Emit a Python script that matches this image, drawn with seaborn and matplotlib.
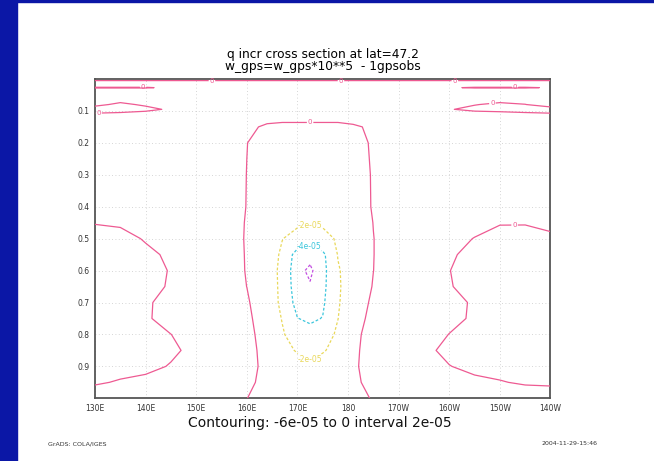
import numpy as np
import matplotlib
matplotlib.use("Agg")
import matplotlib.pyplot as plt
import seaborn as sns
from matplotlib.patches import Rectangle

# ---------------- data (q increment, units of 1e-5) ----------------
lon = [130, 135, 140, 145, 150, 155, 160, 164, 167, 170, 172.5, 175,
       178, 181, 185, 190, 195, 200, 205, 210, 215, 220]
sigma = [0.0, 0.015, 0.027, 0.04, 0.06, 0.08, 0.095, 0.11, 0.125, 0.15,
         0.2, 0.3, 0.4, 0.45, 0.5, 0.55, 0.6, 0.65, 0.7, 0.75, 0.8,
         0.85, 0.9, 0.95, 1.0]
q_incr = [
    # 130   135   140   145  150  155   160    164    167    170   172.5   175    178    181    185  190  195   200   205   210   215   220
    [-0.5, -0.5, -0.5, -0.5, -0.5, -0.5, -0.5, -0.5, -0.5, -0.5, -0.5, -0.5, -0.5, -0.5, -0.5, -0.5, -0.5, -0.5, -0.5, -0.5, -0.5, -0.5],
    [1, 1, 1, 1, 1, 1, 1, 1, 1, 1, 1, 1, 1, 1, 1, 1, 1, 1, 1, 1, 1, 1],
    [-0.1, -0.1, -0.1, 0.2, 1, 1, 1, 1, 1, 1, 1, 1, 1, 1, 1, 1, 1, 0.1, -0.1, -0.1, -0.1, 0.08],
    [1, 1, 1, 1, 1, 1, 1, 1, 1, 1, 1, 1, 1, 1, 1, 1, 1, 1, 1, 1, 1, 1],
    [1, 1, 1, 1, 1, 1, 1, 1, 1, 1, 1, 1, 1, 1, 1, 1, 1, 1, 1, 1, 1, 1],
    [0.5, -0.43, 0.3, 1, 1, 1, 1, 1, 1, 1, 1, 1, 1, 1, 1, 1, 1, 1, 0.1, -0.43, -0.05, 1],
    [-1, -1, -0.6, 0.34, 1, 1, 1, 1, 1, 1, 1, 1, 1, 1, 1, 1, 1, 0.15, -0.6, -1, -1, -1],
    [0.25, 0.5, 0.9, 1, 1, 1, 1, 1, 1, 1, 1, 1, 1, 1, 1, 1, 1, 1, 1, 1, 0.5, 0.25],
    [1, 1, 1, 1, 1, 1, 1, 0.38, 0.24, 0.24, 0.24, 0.24, 0.24, 0.53, 1, 1, 1, 1, 1, 1, 1, 1],
    [1, 1, 1, 1, 1, 1, 0.34, -0.25, -0.3, -0.3, -0.3, -0.3, -0.3, -0.25, 0.3, 1, 1, 1, 1, 1, 1, 1],
    [1, 1, 1, 1, 1, 1, 0.02, -0.5, -0.6, -0.6, -0.6, -0.6, -0.6, -0.5, 0.17, 1, 1, 1, 1, 1, 1, 1],
    [1, 1, 1, 1, 1, 1, -0.02, -0.7, -0.85, -0.9, -0.9, -0.9, -0.85, -0.7, 0.12, 1, 1, 1, 1, 1, 1, 1],
    [1, 1, 1, 1, 1, 1, -0.04, -0.9, -1.2, -1.35, -1.4, -1.35, -1.2, -0.9, 0.13, 1, 1, 1, 1, 1, 1, 1],
    [0.07, 0.17, 1, 1, 1, 1, -0.11, -1.2, -1.6, -1.8, -1.85, -1.8, -1.6, -1.2, 0.03, 1, 1, 1, 1, 0.11, 0.1, 0.76],
    [-0.6, -0.4, 0.1, 1, 1, 1, -0.14, -1.19, -1.97, -2.42, -2.92, -2.42, -1.85, -1.04, -0.03, 1, 1, 1, -0.1, -0.6, -0.6, -0.6],
    [-0.6, -0.6, -0.26, 0.2, 1, 1, -0.11, -1.3, -2.21, -4.9, -5.3, -4.42, -1.92, -1.11, -0.03, 1, 1, 0.28, -0.6, -0.6, -0.6, -0.6],
    [-0.6, -0.6, -0.6, 0.1, 1, 1, -0.09, -1.375, -2.31, -5.4, -6.4, -4.61, -2.15, -1.18, -0.01, 1, 1, 0.03, -0.6, -0.6, -0.6, -0.6],
    [-0.6, -0.6, -0.6, 0.19, 1, 1, -0.01, -1.31, -2.3, -5.2, -5.8, -4.5, -2.2, -1.16, 0.09, 1, 1, 0.11, -0.6, -0.6, -0.6, -0.6],
    [-0.6, -0.6, -0.4, 1, 1, 1, 0.21, -1.21, -2.29, -4.73, -5.0, -4.28, -2.17, -0.9, 0.28, 1, 1, 0.77, -0.3, -0.6, -0.6, -0.6],
    [-0.6, -0.6, -0.3, 0.9, 1, 1, 0.39, -1.02, -2.07, -3.96, -4.3, -3.94, -2.02, -0.89, 0.59, 1, 1, 0.58, -0.3, -0.6, -0.6, -0.6],
    [-0.6, -0.6, -0.6, -0.02, 1, 1, 0.54, -0.81, -1.86, -2.71, -3.4, -2.67, -1.77, -0.62, 0.92, 1, 1, -0.04, -0.6, -0.6, -0.6, -0.6],
    [-0.6, -0.6, -0.6, -0.4, 0.6, 1, 0.56, -0.56, -1.41, -2.16, -2.6, -2.17, -1.37, -0.41, 0.86, 1, 0.55, -0.6, -0.6, -0.6, -0.6, -0.6],
    [-0.6, -0.6, -0.6, 0.15, 1, 1, 0.35, -0.28, -0.75, -1.22, -1.6, -1.17, -0.68, -0.18, 0.48, 1, 1, 0.07, -0.6, -0.6, -0.6, -0.6],
    [-0.2, 0.15, 0.6, 1, 1, 1, 0.19, -0.26, -0.59, -0.93, -1.2, -0.91, -0.55, -0.2, 0.3, 1, 1, 1, 0.51, 0.1, -0.2, -0.3],
    [1, 1, 1, 1, 1, 1, 0.01, -0.32, -0.56, -0.8, -1.0, -0.79, -0.54, -0.27, 0.06, 1, 1, 1, 1, 1, 1, 1],
]
data_scale = 1e-5

contour_levels = [-6e-5, -4e-5, -2e-5, 0.0]
level_colors = ["#c34fe0", "#3cc6dc", "#e9d85a", "#ee5a92"]
level_styles = ["dashed", "dashed", "dashed", "solid"]
level_label_size = [5.5, 5.5, 5.5, 5]

xtick_values = [130, 140, 150, 160, 170, 180, 190, 200, 210, 220]
xtick_labels = ["130E", "140E", "150E", "160E", "170E", "180",
                "170W", "160W", "150W", "140W"]
ytick_values = [0.1, 0.2, 0.3, 0.4, 0.5, 0.6, 0.7, 0.8, 0.9]
ytick_labels = ["0.1", "0.2", "0.3", "0.4", "0.5", "0.6", "0.7", "0.8", "0.9"]

title_lines = ["q incr cross section at lat=47.2",
               "w_gps=w_gps*10**5  - 1gpsobs"]
contour_note = "Contouring: -6e-05 to 0 interval 2e-05"
footer_left = "GrADS: COLA/IGES"
footer_right = "2004-11-29-15:46"

# label anchor points (lon, sigma) for contour labels, per level
label_anchors = [
    [],
    [(172.2, 0.52)],
    [(172.4, 0.457), (172.4, 0.88)],
    [(153.1, 0.005), (178.6, 0.005), (201.1, 0.005),
     (139.5, 0.027), (213.0, 0.027), (130.7, 0.107),
     (208.5, 0.073), (172.5, 0.136), (212.9, 0.454)],
]

# ---------------- styling ----------------
sns.set_style("white")
plt.rcParams["font.family"] = ["DejaVu Sans"]
plt.rcParams["lines.dashed_pattern"] = [2.2, 1.6]

W, H = 654, 461
fig = plt.figure(figsize=(W / 100, H / 100), dpi=100)
fig.patch.set_facecolor("white")

blue = "#0b17a6"
fig.patches.append(Rectangle((0, 0), 16.5 / W, 1, transform=fig.transFigure,
                             color=blue, zorder=0))
fig.patches.append(Rectangle((0, 1 - 2 / H), 1, 2 / H, transform=fig.transFigure,
                             color=blue, zorder=0))

ax_l, ax_r, ax_t, ax_b = 95, 550.5, 79, 398.3
ax = fig.add_axes([ax_l / W, 1 - ax_b / H, (ax_r - ax_l) / W, (ax_b - ax_t) / H])

Z = np.array(q_incr) * data_scale


def fmt(v):
    return "0" if v == 0 else f"{v:.0e}"


for lev, col, ls, fs, anchors in zip(contour_levels, level_colors, level_styles,
                                     level_label_size, label_anchors):
    cs = ax.contour(lon, sigma, Z, levels=[lev], colors=[col],
                    linestyles=[ls], linewidths=0.9, zorder=3)
    if anchors:
        ax.clabel(cs, manual=anchors, inline=True, inline_spacing=1,
                  fmt=fmt, fontsize=fs)
        for t in cs.labelTexts:
            t.set_rotation(0)
            t.set_clip_on(False)
            t.set_zorder(4)

ax.set_xlim(130, 220)
ax.set_ylim(1.0, 0.0)
ax.set_xticks(xtick_values)
ax.set_xticklabels(xtick_labels)
ax.set_yticks(ytick_values)
ax.set_yticklabels(ytick_labels)
ax.grid(True, linestyle=(0, (1, 3)), color="#c8c8c8", linewidth=0.6, zorder=0)
ax.tick_params(direction="out", length=2.5, width=0.8, colors="#555555",
               labelsize=5.5, labelcolor="#333333", pad=1.5)
for sp in ax.spines.values():
    sp.set_color("#555555")
    sp.set_linewidth(1.3)
    sp.set_visible(True)

cx = (ax_l + ax_r) / 2
fig.text(cx / W, 1 - 58.3 / H, title_lines[0], ha="center", va="baseline",
         fontsize=8.8, color="#000000")
fig.text(cx / W, 1 - 70 / H, title_lines[1], ha="center", va="baseline",
         fontsize=8.8, color="#000000")
fig.text(319.5 / W, 1 - 427.3 / H, contour_note, ha="center", va="baseline",
         fontsize=10, color="#111111")
fig.text(47.7 / W, 1 - 445 / H, footer_left, ha="left", va="baseline",
         fontsize=4.5, color="#333333")
fig.text(598 / W, 1 - 445 / H, footer_right, ha="right", va="baseline",
         fontsize=4.5, color="#333333")

fig.savefig("out.png", dpi=100, facecolor="white")
